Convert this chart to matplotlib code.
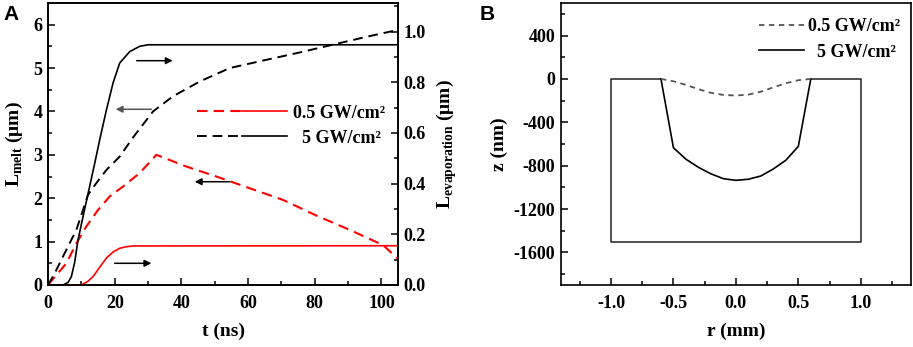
import matplotlib
matplotlib.use('Agg')
import matplotlib.pyplot as plt
from matplotlib.ticker import MultipleLocator
from matplotlib.legend_handler import HandlerTuple

# ---- panel A data (t in ns) ----
# L_melt, left axis
t_melt_low = [0, 2.5, 5.5, 8.5, 11.5, 15, 18.5, 22.5, 27.5, 32.5, 41.5, 50.5, 60.5, 70.5, 80.5, 90.5, 100.5, 105]
melt_low = [0, 0.23, 0.5, 0.96, 1.35, 1.73, 2.04, 2.27, 2.58, 3.0, 2.73, 2.5, 2.23, 1.96, 1.6, 1.27, 0.92, 0.6]
t_melt_high = [0, 2.0, 5.5, 8.5, 10.5, 12, 14.5, 17.5, 21.5, 25.5, 31.5, 37.5, 45.5, 54.5, 65.5, 75.5, 85.5, 95.5, 105]
melt_high = [0, 0.27, 0.81, 1.27, 1.73, 2.08, 2.35, 2.65, 2.96, 3.4, 4.0, 4.35, 4.69, 5.0, 5.19, 5.36, 5.54, 5.72, 5.88]
# L_evaporation, right axis
t_evap_low = [0, 10, 12, 13.5, 15.5, 17.5, 19.5, 21.5, 23.5, 25.5, 105]
evap_low = [0, 0, 0.015, 0.033, 0.07, 0.106, 0.13, 0.145, 0.151, 0.154, 0.155]
t_evap_high = [0, 4.5, 6, 7, 8, 9, 10.5, 12.5, 14, 15.5, 17.5, 19.5, 21.5, 24.5, 27.5, 30, 105]
evap_high = [0, 0, 0.01, 0.033, 0.09, 0.178, 0.27, 0.39, 0.48, 0.573, 0.69, 0.797, 0.876, 0.921, 0.942, 0.948, 0.948]

# arrows: (t_start, t_end, L_melt level)
arrows = [(26.6, 37.4, 5.17), (31, 20.3, 4.05), (54.5, 44, 2.38), (20, 31, 0.5)]
arrow_colors = ['black', '#555555', 'black', 'black']

labels = ['0.5 GW/cm\u00b2', '  5 GW/cm\u00b2']

# ---- panel B data (r in mm, z in nm) ----
r_crater = [-0.6, -0.5, -0.4, -0.3, -0.2, -0.1, 0, 0.1, 0.2, 0.3, 0.4, 0.5, 0.6]
z_low = [0, -22, -55, -95, -128, -148, -153, -145, -118, -78, -40, -12, 0]
z_high = [0, -635, -740, -815, -875, -920, -935, -925, -895, -830, -750, -622, 0]
box_r = [-0.6, -1.0, -1.0, 1.0, 1.0, 0.6]
box_z = [0, 0, -1500, -1500, 0, 0]

plt.rcParams['font.family'] = ['Liberation Serif', 'DejaVu Serif']
plt.rcParams['font.weight'] = 'bold'
plt.rcParams['axes.labelweight'] = 'bold'
plt.rcParams['font.size'] = 13
plt.rcParams['mathtext.fontset'] = 'custom'
plt.rcParams['mathtext.rm'] = 'Liberation Serif:bold'
plt.rcParams['axes.linewidth'] = 1.2
plt.rcParams['axes.unicode_minus'] = False


def style_ticks(a):
    a.tick_params(which='both', direction='in', width=1.1, pad=4)
    a.tick_params(which='major', length=5)
    a.tick_params(which='minor', length=3)


fig = plt.figure(figsize=(9.13, 3.47), dpi=100)
ax1 = fig.add_axes([0.0526, 0.1787, 0.3834, 0.8127])
ax2 = ax1.twinx()

dash = (0, (5, 3))
l1, = ax1.plot(t_melt_low, melt_low, color='red', lw=1.5, linestyle=dash)
l2, = ax1.plot(t_melt_high, melt_high, color='black', lw=1.4, linestyle=dash)
l3, = ax2.plot(t_evap_low, evap_low, color='red', lw=1.2)
l4, = ax2.plot(t_evap_high, evap_high, color='black', lw=1.2)

for (x0, x1, y), c in zip(arrows, arrow_colors):
    ax1.annotate('', xy=(x1, y), xytext=(x0, y),
                 arrowprops=dict(arrowstyle='-|>', color=c, lw=1.1, mutation_scale=10, shrinkA=0, shrinkB=0))

ax1.set_xlim(0, 105)
ax1.set_ylim(0, 6.5)
ax2.set_ylim(0, 1.113)
ax1.xaxis.set_major_locator(MultipleLocator(20))
ax1.xaxis.set_minor_locator(MultipleLocator(10))
ax1.yaxis.set_major_locator(MultipleLocator(1))
ax1.yaxis.set_minor_locator(MultipleLocator(0.5))
ax2.yaxis.set_major_locator(MultipleLocator(0.2))
ax2.yaxis.set_minor_locator(MultipleLocator(0.1))
ax1.xaxis.set_major_formatter(lambda v, p: f'{v:.0f}')
ax1.yaxis.set_major_formatter(lambda v, p: f'{v:.0f}')
ax2.yaxis.set_major_formatter(lambda v, p: f'{v:.1f}')

style_ticks(ax1)
style_ticks(ax2)
ax1.tick_params(axis='x', pad=7)

ax1.set_xlabel('t (ns)', fontsize=14, labelpad=8)
ax1.set_ylabel('L$_{\\mathrm{melt}}$ (\u03bcm)', fontsize=14, labelpad=6)
ax2.set_ylabel('L$_{\\mathrm{evaporation}}$ (\u03bcm)', fontsize=14, labelpad=6)

ax1.legend([(l1, l3), (l2, l4)], labels, handler_map={tuple: HandlerTuple(ndivide=None, pad=0)},
           loc='upper left', bbox_to_anchor=(0.426, 0.64), frameon=False,
           handlelength=5.0, handletextpad=0.3, labelspacing=0.45, borderpad=0, borderaxespad=0)

# ---- panel B ----
ax3 = fig.add_axes([0.6145, 0.1787, 0.383, 0.8127])
ax3.plot(box_r, box_z, color='#222222', lw=1.1)
ax3.plot(r_crater, z_high, color='black', lw=1.2, label=labels[1])
ax3.plot(r_crater, z_low, color='#555555', lw=1.3, linestyle=(0, (3, 2.5)), label=labels[0])
ax3.set_xlim(-1.4, 1.4)
ax3.set_ylim(-1900, 700)
ax3.xaxis.set_major_locator(MultipleLocator(0.5))
ax3.xaxis.set_minor_locator(MultipleLocator(0.25))
ax3.yaxis.set_major_locator(MultipleLocator(400))
ax3.yaxis.set_minor_locator(MultipleLocator(200))
ax3.xaxis.set_major_formatter(lambda v, p: f'{v:.1f}')
ax3.yaxis.set_major_formatter(lambda v, p: f'{v:.0f}')
style_ticks(ax3)
ax3.tick_params(axis='x', pad=7)
ax3.set_xlabel('r (mm)', fontsize=14, labelpad=8)
ax3.set_ylabel('z (nm)', fontsize=14, labelpad=4)
h, l = ax3.get_legend_handles_labels()
ax3.legend(h[::-1], l[::-1], loc='upper right', bbox_to_anchor=(0.97, 0.945), frameon=False,
           handlelength=2.5, handletextpad=0.2, labelspacing=0.45, borderpad=0, borderaxespad=0)

fig.text(0.004, 0.985, 'A', fontsize=15, fontweight='bold', family='Liberation Sans', va='top')
fig.text(0.525, 0.985, 'B', fontsize=15, fontweight='bold', family='Liberation Sans', va='top')

fig.savefig('out.png', dpi=100)
